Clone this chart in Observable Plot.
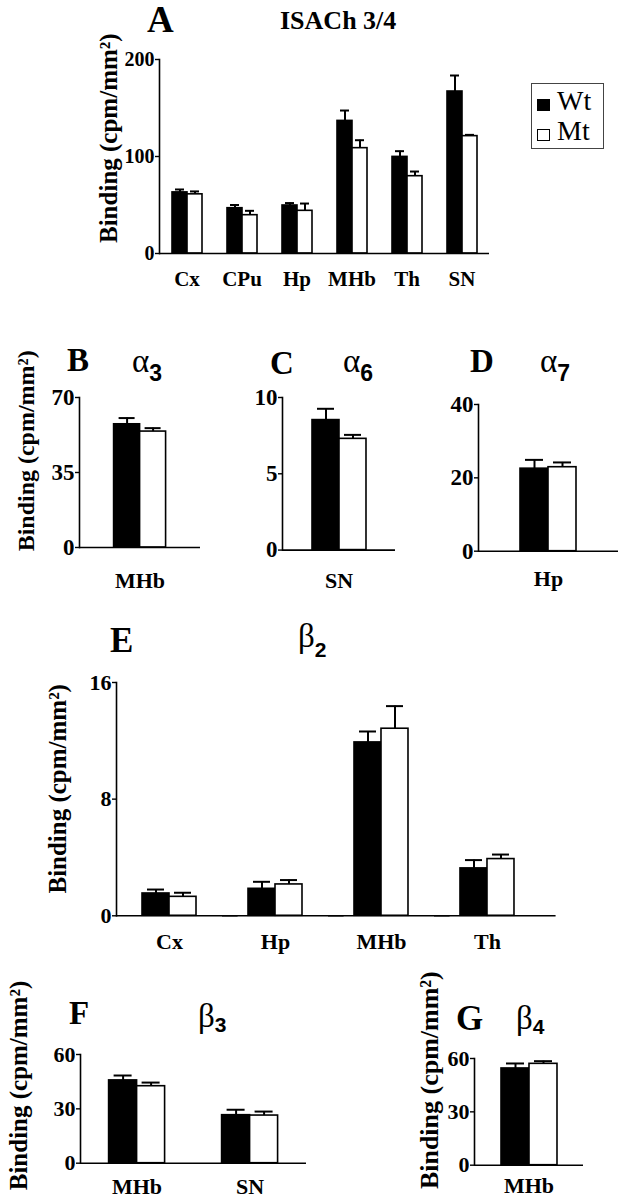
<!DOCTYPE html>
<html><head><meta charset="utf-8">
<script src="https://cdn.jsdelivr.net/npm/d3@7"></script>
<script src="https://cdn.jsdelivr.net/npm/@observablehq/plot@0.6"></script>
<style>
html,body{margin:0;padding:0;background:#fff;}
#fig{position:relative;width:622px;height:1199px;overflow:hidden;font-family:"Liberation Serif","Times New Roman",serif;color:#000;}
.t{position:absolute;line-height:1;white-space:nowrap;}
.p{position:absolute;}
.sub{font-family:"Liberation Sans",Arial,sans-serif;font-weight:bold;position:relative;}
</style></head><body><div id="fig"></div>
<script>
const yLabel = "Binding (cpm/mm²)";
const groups = ["Wt", "Mt"];

// A: ISACh 3/4
const catsA = ["Cx", "CPu", "Hp", "MHb", "Th", "SN"];
const wtA = [63, 46.7, 49.5, 136.7, 99.6, 167];
const wtErrA = [3, 3.3, 2.5, 10.7, 5.9, 16.5];
const mtA = [61, 39.5, 44, 108.6, 79.7, 121];
const mtErrA = [3, 4.5, 7.5, 8.2, 4.8, 1.3];
const ticksA = [0, 100, 200];

// B: alpha3
const catsB = ["MHb"];
const wtB = [57.5]; const wtErrB = [2.9];
const mtB = [54.1]; const mtErrB = [1.6];
const ticksB = [0, 35, 70];

// C: alpha6
const catsC = ["SN"];
const wtC = [8.52]; const wtErrC = [0.74];
const mtC = [7.29]; const mtErrC = [0.26];
const ticksC = [0, 5, 10];

// D: alpha7
const catsD = ["Hp"];
const wtD = [22.5]; const wtErrD = [2.4];
const mtD = [22.9]; const mtErrD = [1.3];
const ticksD = [0, 20, 40];

// E: beta2
const catsE = ["Cx", "Hp", "MHb", "Th"];
const wtE = [1.53, 1.85, 11.89, 3.25];
const wtErrE = [0.27, 0.48, 0.75, 0.57];
const mtE = [1.30, 2.15, 12.83, 3.89];
const mtErrE = [0.28, 0.30, 1.55, 0.31];
const ticksE = [0, 8, 16];

// F: beta3
const catsF = ["MHb", "SN"];
const wtF = [45.7, 26.5]; const wtErrF = [2.7, 3.0];
const mtF = [42.5, 26.3]; const mtErrF = [2.0, 2.2];
const ticksF = [0, 30, 60];

// G: beta4
const catsG = ["MHb"];
const wtG = [54.4]; const wtErrG = [2.8];
const mtG = [57.0]; const mtErrG = [1.5];
const ticksG = [0, 30, 60];

const fig = document.getElementById("fig");

function panel(data, L) {
  const rows = data.cats.flatMap((c, i) => [
    {cat: c, g: "Wt", v: data.wt[i], e: data.wtErr[i]},
    {cat: c, g: "Mt", v: data.mt[i], e: data.mtErr[i]}
  ]);
  const frameH = L.y0 - L.yTop;
  const frameW = L.xEnd - L.axisX;
  const ext = L.ext || 0;
  const marks = [
    Plot.barY(rows, {fx: "cat", x: "g", y: "v", fill: "g", stroke: "#000", strokeWidth: 1.6}),
    Plot.ruleX(rows, {fx: "cat", x: "g", y1: "v", y2: d => d.v + d.e, stroke: "#000", strokeWidth: 2}),
    Plot.tickY(rows, {fx: "cat", x: "g", y: d => d.v + d.e, stroke: "#000", strokeWidth: 2, insetLeft: L.capInset, insetRight: L.capInset}),
    Plot.ruleY([0], {stroke: "#000", strokeWidth: 1.6, insetRight: -ext}),
    Plot.frame({anchor: "left", facetAnchor: "left", stroke: "#000", strokeWidth: 1.6}),
    Plot.axisY({ticks: data.ticks, tickSize: 4, tickPadding: 1, strokeWidth: 1.4, fontSize: L.tickFs, label: null, tickFormat: d => String(d)}),
    Plot.axisFx({anchor: "bottom", tickSize: 0, tickPadding: L.xPad, fontSize: L.xFs, label: null})
  ];
  if (L.labelX !== undefined) {
    marks.push(Plot.text([{cat: data.cats[0], t: yLabel}], {
      fx: "cat", text: "t", frameAnchor: "left", rotate: -90, textAnchor: "middle", lineAnchor: "middle",
      dx: L.labelX - L.axisX, dy: L.labelY - (L.yTop + L.y0) / 2,
      fontSize: L.labelFs, fontWeight: "bold"
    }));
  }
  const svg = Plot.plot({
    width: L.mL + frameW + L.mR,
    height: L.mT + frameH + L.mB,
    marginLeft: L.mL, marginRight: L.mR, marginTop: L.mT, marginBottom: L.mB,
    fx: {domain: data.cats, padding: 0, label: null},
    x: {domain: groups, paddingInner: 0, paddingOuter: L.pad, axis: null},
    y: {domain: [0, data.ticks[data.ticks.length - 1]]},
    color: {domain: groups, range: ["#000", "#fff"]},
    style: {fontFamily: '"Liberation Serif", "Times New Roman", serif', fontWeight: "bold", background: "transparent", overflow: "visible", color: "#000"},
    marks
  });
  const wrap = document.createElement("div");
  wrap.className = "p";
  wrap.style.left = (L.axisX - L.mL) + "px";
  wrap.style.top = (L.yTop - L.mT) + "px";
  wrap.appendChild(svg);
  fig.appendChild(wrap);
}

function label(html, x, baseline, fs, weight) {
  const d = document.createElement("div");
  d.className = "t";
  d.style.left = x + "px";
  d.style.top = (baseline - 0.84 * fs) + "px";
  d.style.fontSize = fs + "px";
  d.style.fontWeight = weight || "bold";
  d.innerHTML = html;
  fig.appendChild(d);
}
function greek(ch, sub, x, baseline, fs, subFs, shift) {
  label(ch + '<span class="sub" style="font-size:' + subFs + 'px;top:' + shift + 'px">' + sub + '</span>', x, baseline, fs, "normal");
}

panel({cats: catsA, wt: wtA, wtErr: wtErrA, mt: mtA, mtErr: mtErrA, ticks: ticksA},
  {axisX: 157, xEnd: 490, yTop: 59.3, y0: 253.3, mL: 80, mR: 4, mT: 20, mB: 45, pad: 0.79, tickFs: 20, xFs: 21, xPad: 17.8, labelX: 106, labelY: 138, labelFs: 25, capInset: 3});
panel({cats: catsB, wt: wtB, wtErr: wtErrB, mt: mtB, mtErr: mtErrB, ticks: ticksB},
  {axisX: 79.4, xEnd: 200.4, yTop: 396.7, y0: 546.7, mL: 79.4, mR: 4, mT: 12, mB: 50, pad: 1.27, tickFs: 23, xFs: 22, xPad: 24.7, labelX: 26, labelY: 450, labelFs: 24, capInset: 5});
panel({cats: catsC, wt: wtC, wtErr: wtErrC, mt: mtC, mtErr: mtErrC, ticks: ticksC},
  {axisX: 281.7, xEnd: 394.8, yTop: 396.7, y0: 549.3, mL: 45, mR: 4, mT: 12, mB: 50, pad: 1.03, tickFs: 23, xFs: 22, xPad: 22, capInset: 5});
panel({cats: catsD, wt: wtD, wtErr: wtErrD, mt: mtD, mtErr: mtErrD, ticks: ticksD},
  {axisX: 478.2, xEnd: 619, yTop: 404, y0: 550.7, mL: 45, mR: 3, mT: 12, mB: 50, pad: 1.48, tickFs: 23, xFs: 22, xPad: 19, capInset: 5});
panel({cats: catsE, wt: wtE, wtErr: wtErrE, mt: mtE, mtErr: mtErrE, ticks: ticksE},
  {axisX: 115.9, xEnd: 540, ext: 15.6, yTop: 681.7, y0: 915, mL: 80, mR: 20, mT: 12, mB: 45, pad: 0.91, tickFs: 22, xFs: 22, xPad: 17.4, labelX: 57.5, labelY: 788, labelFs: 25, capInset: 5});
panel({cats: catsF, wt: wtF, wtErr: wtErrF, mt: mtF, mtErr: mtErrF, ticks: ticksF},
  {axisX: 79.4, xEnd: 305.6, yTop: 1054, y0: 1162.7, mL: 79.4, mR: 4, mT: 12, mB: 40, pad: 1.0, tickFs: 22, xFs: 22, xPad: 15, labelX: 18, labelY: 1085, labelFs: 25, capInset: 5});
panel({cats: catsG, wt: wtG, wtErr: wtErrG, mt: mtG, mtErr: mtErrG, ticks: ticksG},
  {axisX: 474.2, xEnd: 583.3, yTop: 1058.3, y0: 1165, mL: 70, mR: 4, mT: 12, mB: 40, pad: 0.92, tickFs: 22, xFs: 22, xPad: 12, labelX: 429.6, labelY: 1080, labelFs: 26, capInset: 5});

// Titles
label("A", 147, 32, 37);
label("ISACh 3/4", 280, 30, 26);
label("B", 67, 372, 33); greek("α", "3", 132, 373, 33, 23, 9);
label("C", 270, 375, 33); greek("α", "6", 343, 373, 33, 23, 9);
label("D", 470, 373, 33); greek("α", "7", 540, 373, 33, 23, 9);
label("E", 110, 652, 35); greek("β", "2", 298, 648, 33, 21, 10);
label("F", 69, 1025, 33); greek("β", "3", 198, 1028, 33, 21, 5);
label("G", 456, 1030, 35); greek("β", "4", 516, 1030, 33, 21, 5);

// Legend
const leg = document.createElement("div");
leg.className = "p";
leg.style.cssText = "left:531px;top:83px;width:73px;height:66px;border:1.2px solid #444;box-sizing:border-box;";
fig.appendChild(leg);
[["Wt", "#000", 27], ["Mt", "#fff", 57]].forEach(([name, col, bl]) => {
  const sq = document.createElement("div");
  sq.className = "p";
  sq.style.cssText = `left:5px;top:${bl - 12}px;width:13px;height:12px;background:${col};border:1.3px solid #000;box-sizing:border-box;`;
  leg.appendChild(sq);
  const tx = document.createElement("div");
  tx.className = "t";
  tx.style.cssText = `left:25px;top:${bl - 0.84 * 28}px;font-size:28px;font-weight:normal;`;
  tx.textContent = name;
  leg.appendChild(tx);
});
</script></body></html>
